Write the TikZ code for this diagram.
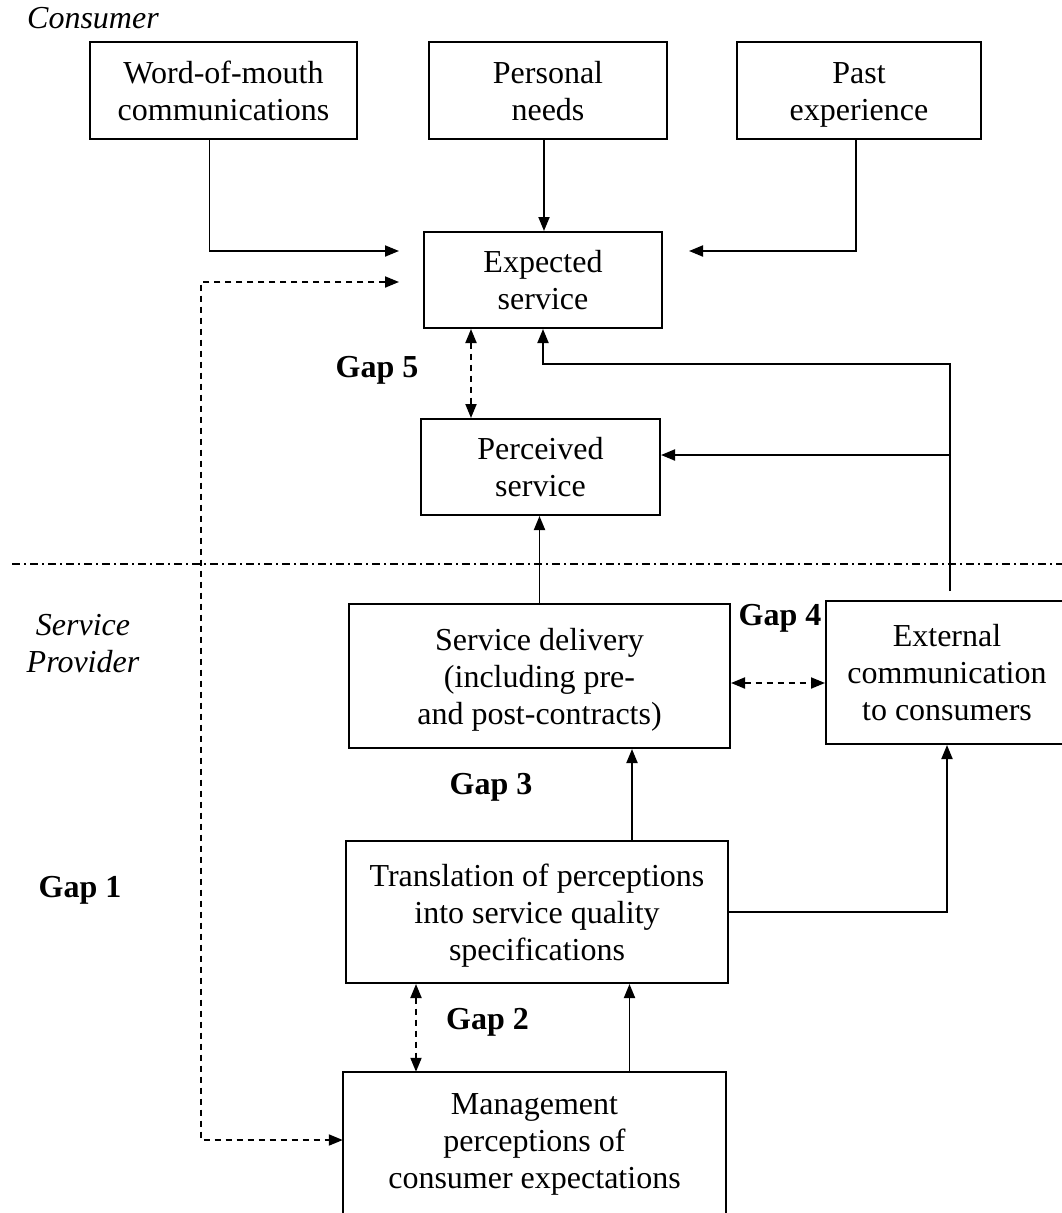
\documentclass[tikz,border=0pt]{standalone}
\usepackage{fontspec}
\setmainfont{Liberation Serif}
\usetikzlibrary{arrows.meta,calc}
\newcommand\topst{\rule{0pt}{29.5pt}}
\newcommand\botst{\rule[-7.5pt]{0pt}{7.5pt}}
\begin{document}
\begin{tikzpicture}[x=1pt,y=-1pt,
  box/.style={draw,line width=2pt,inner sep=0pt,align=center,font=\fontsize{32}{37}\selectfont},
  txt/.style={inner sep=0pt,align=center,font=\fontsize{32}{37}\selectfont},
  lbl/.style={inner sep=0pt,font=\fontsize{32}{37}\selectfont\bfseries},
  ital/.style={inner sep=0pt,align=center,font=\fontsize{32}{37}\selectfont\itshape},
  conn/.style={line width=1.9pt,-{Triangle[length=14pt,width=11pt]}},
  dconn/.style={conn,dash pattern=on 6pt off 5pt},
  ddconn/.style={dconn,{Triangle[length=14pt,width=11pt]}-{Triangle[length=14pt,width=11pt]}},
  divider/.style={line width=1.5pt,dash pattern=on 8pt off 4pt on 2pt off 4pt}
]
\useasboundingbox (0,0) rectangle (1062,1213);
\clip (0,0) rectangle (1062,1213);

% labels
\node[ital,anchor=base west] (consumer) at (27,28) {Consumer};
\node[ital] (provider) at (83,643) {\topst Service\\Provider\botst};

% boxes
\node[box,minimum width=267pt,minimum height=97pt] (wom) at (223.5,90.5) {\topst Word-of-mouth\\communications\botst};
\node[box,minimum width=238pt,minimum height=97pt] (need) at (548,90.5) {\topst Personal\\needs\botst};
\node[box,minimum width=244pt,minimum height=97pt] (past) at (859,90.5) {\topst Past\\experience\botst};
\node[box,minimum width=238pt,minimum height=96pt] (exp) at (543,280) {\topst Expected\\service\botst};
\node[box,minimum width=239pt,minimum height=96pt] (perc) at (540.5,467) {\topst Perceived\\service\botst};
\node[box,minimum width=381pt,minimum height=144pt] (sd) at (539.5,676) {\topst Service delivery\\(including pre-\\and post-contracts)\botst};
\node[box,minimum width=242pt,minimum height=143pt] (ext) at (947,672.5) {\topst External\\communication\\to consumers\botst};
\node[box,minimum width=382pt,minimum height=142pt] (trans) at (537,912) {\topst Translation of perceptions\\into service quality\\specifications\botst};
\node[txt,minimum width=383pt,minimum height=136pt] (mgmt) at (534.5,1140) {\topst Management\\perceptions of\\consumer expectations\botst};
\draw[line width=2pt] ($(mgmt.south west)+(0,30)$) -- (mgmt.north west) -- (mgmt.north east) -- ($(mgmt.south east)+(0,30)$);

% gap labels
\node[lbl] (gap5) at (377,370) {Gap 5};
\node[lbl] (gap4) at (780,618) {Gap 4};
\node[lbl] (gap3) at (491,787) {Gap 3};
\node[lbl] (gap1) at (80,890) {Gap 1};
\node[lbl] (gap2) at (487.5,1022) {Gap 2};

% divider
\coordinate (dl) at (12,564);
\coordinate (dr) at (1062,564);
\draw[divider] (dl) -- (dr);

% connectors
\draw[conn,shorten >=24pt] ([xshift=-14pt]wom.south) |- ([yshift=29pt]exp.west);
\draw[conn] ([xshift=-4pt]need.south) -- ([xshift=-4pt]need.south |- exp.north);
\draw[conn,shorten >=26pt] ([xshift=-3pt]past.south) |- ([yshift=29pt]exp.east);

\coordinate (g1) at (201,1140);
\draw[ddconn,shorten <=24pt] ([yshift=-2pt]exp.west) -| (g1) -- (mgmt.west);

\draw[ddconn] ([xshift=-72pt]exp.south) -- ([xshift=-72pt]exp.south |- perc.north);

\coordinate (c5) at (543,364);
\draw[conn] ([xshift=3pt,yshift=9pt]ext.north) |- (c5) -- (exp.south);
\coordinate (c6) at (950,455);
\draw[conn] (c6) -- (c6 -| perc.east);

\draw[conn] (sd.north) -- (sd.north |- perc.south);
\draw[ddconn] ([yshift=-7pt]sd.east) -- ([yshift=-7pt]sd.east -| ext.west);

\draw[conn] ([xshift=95pt]trans.north) -- ([xshift=95pt]trans.north |- sd.south);
\draw[conn] (trans.east) -| (ext.south);

\draw[conn] ([xshift=95pt]mgmt.north) -- ([xshift=95pt]mgmt.north |- trans.south);
\draw[ddconn] ([xshift=-121pt]trans.south) -- ([xshift=-121pt]trans.south |- mgmt.north);
\end{tikzpicture}
\end{document}
